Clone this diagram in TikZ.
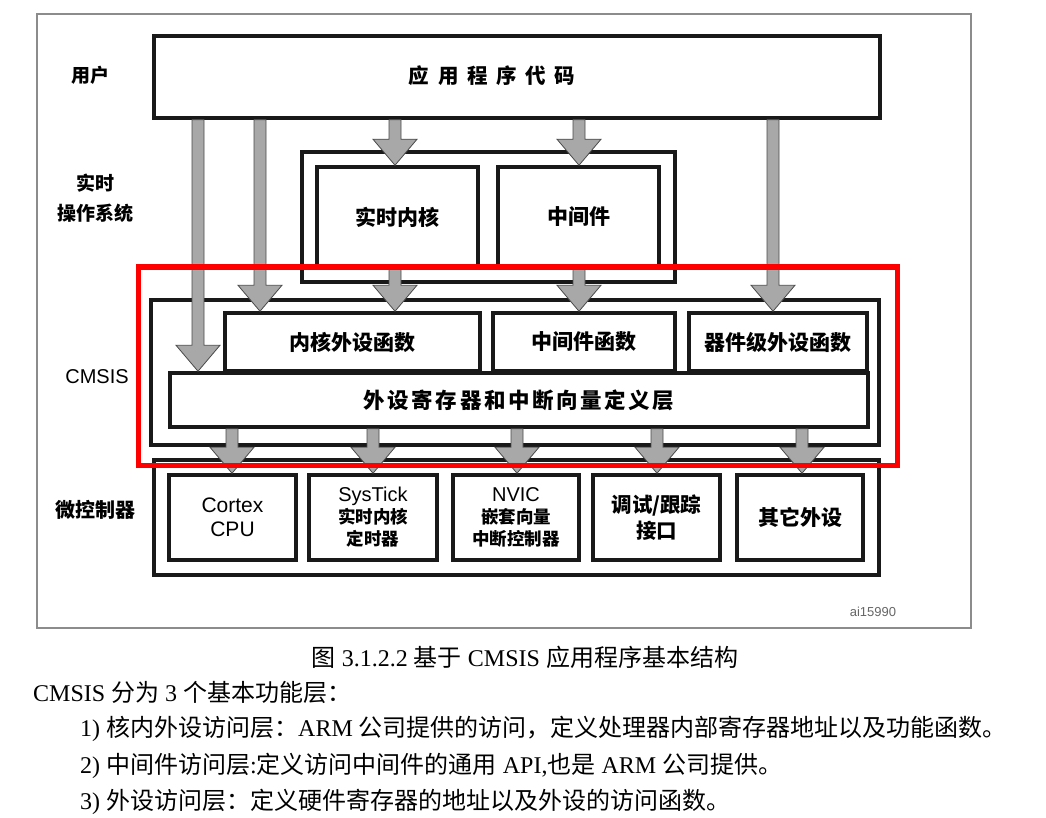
\documentclass[tikz,border=0pt]{standalone}
\usepackage{fontspec}
\setmainfont{Liberation Serif}
\setsansfont{Liberation Sans}
\newfontfamily\cjk{Noto Sans CJK SC}
\usetikzlibrary{calc,positioning}
\definecolor{arrowgray}{HTML}{A8A8A8}
\definecolor{edgegray}{HTML}{4A4A4A}
\definecolor{framegray}{HTML}{8C8C8C}
\definecolor{markred}{HTML}{FF0000}
% broad grey block arrow: x position, from node, to node
\newcommand{\flowarrow}[3]{%
  \path[arrowshape] let \p1=(#1,0 |- #2.south), \p2=(#1,0 |- #3.north) in
    ({\x1-6pt},\y1) -- ({\x1-6pt},{\y2+26pt}) -- ({\x1-22pt},{\y2+26pt}) -- (\x1,\y2)
    -- ({\x1+22pt},{\y2+26pt}) -- ({\x1+6pt},{\y2+26pt}) -- ({\x1+6pt},\y1) -- cycle;}

\begin{document}
\begin{tikzpicture}[x=1pt,y=-1pt,
    box/.style={rectangle, draw=black!90, line width=3.5pt, fill=white, inner sep=0pt,
      font=\cjk\bfseries\fontsize{21}{24}\selectfont, align=center},
    side/.style={font=\cjk\bfseries\fontsize{19}{30}\selectfont, align=center},
    arrowshape/.style={fill=arrowgray, draw=edgegray, line width=0.8pt},
    caption/.style={font=\fontsize{24}{28}\selectfont, inner sep=0pt}
]
    \useasboundingbox[fill=white] (0,0) rectangle (1046,818);

    % outer frame
    \draw[framegray, line width=1.5pt] (37,14) rectangle (971,628);

    % user layer
    \node[box, minimum width=726, minimum height=82] (app) at (517,77) {};
    \node[font=\cjk\bfseries\fontsize{20.5}{24}\selectfont\addfontfeature{LetterSpace=42}] (apptxt) at (492,76) {应用程序代码};

    % RTOS layer
    \node[box, minimum width=373, minimum height=130] (rtos) at (488.5,217) {};
    \node[box, minimum width=161, minimum height=100] (rtk) at (397.5,217) {实时内核};
    \node[box, minimum width=161, minimum height=100] (mid) at (578.5,217) {中间件};

    % CMSIS layer
    \node[box, minimum width=728, minimum height=145] (cmsis) at (515,372.5) {};
    \node[box, minimum width=255, minimum height=58] (corefn) at (352.5,342) {内核外设函数};
    \node[box, minimum width=182, minimum height=58] (midfn) at (584,342) {中间件函数};
    \node[box, minimum width=178, minimum height=58] (devfn) at (778,342) {器件级外设函数};
    \node[box, minimum width=698, minimum height=54,
      font=\cjk\bfseries\fontsize{21.5}{24}\selectfont\addfontfeature{LetterSpace=12}] (reg) at (519,400) {外设寄存器和中断向量定义层};

    % microcontroller layer
    \node[box, minimum width=725, minimum height=115] (mcu) at (516.5,517.5) {};
    \node[box, minimum width=127, minimum height=85, font=\sffamily\fontsize{21}{24}\selectfont] (cpu) at (232.5,517.5) {Cortex\\CPU};
    \node[box, minimum width=128, minimum height=85, font=\cjk\bfseries\fontsize{17.5}{22}\selectfont] (systick) at (373,517.5)
      {{\sffamily\mdseries\fontsize{20}{22}\selectfont SysTick}\\实时内核\\定时器};
    \node[box, minimum width=126, minimum height=85, font=\cjk\bfseries\fontsize{17.5}{22}\selectfont] (nvic) at (516,517.5)
      {{\sffamily\mdseries\fontsize{20}{22}\selectfont NVIC}\\嵌套向量\\中断控制器};
    \node[box, minimum width=127, minimum height=85, font=\cjk\bfseries\fontsize{20.5}{26}\selectfont] (dbg) at (656.5,517.5) {调试/跟踪\\接口};
    \node[box, minimum width=126, minimum height=85] (other) at (800,517.5) {其它外设};

    % arrows
    \flowarrow{198}{app}{reg}
    \flowarrow{260}{app}{corefn}
    \flowarrow{395}{app}{rtk}
    \flowarrow{579}{app}{mid}
    \flowarrow{773}{app}{devfn}
    \flowarrow{395}{rtk}{corefn}
    \flowarrow{579}{mid}{midfn}
    \flowarrow{232}{reg}{cpu}
    \flowarrow{373}{reg}{systick}
    \flowarrow{517}{reg}{nvic}
    \flowarrow{657}{reg}{dbg}
    \flowarrow{802}{reg}{other}

    % highlight
    \node[draw=markred, line width=5pt, minimum width=759, minimum height=198, inner sep=0pt] (focus) at (517.5,366) {};

    % layer names
    \node[side] (user) at (90,75) {用户};
    \node[side] (os) at (95,198) {实时\\操作系统};
    \node[font=\sffamily\fontsize{20}{24}\selectfont] (cm) at (97,377) {CMSIS};
    \node[side, font=\cjk\bfseries\fontsize{20}{24}\selectfont] (mc) at (95,510) {微控制器};
    \node[font=\sffamily\fontsize{13}{16}\selectfont, text=black!60] (fig) at (873,612) {ai15990};

    % caption and notes
    \node[caption] (capt) at (525,657) {{\cjk 图} 3.1.2.2 {\cjk 基于} CMSIS {\cjk 应用程序基本结构}};
    \node[caption, anchor=west] (intro) at (33,692) {CMSIS {\cjk 分为} 3 {\cjk 个基本功能层：}};
    \node[caption, anchor=west] (item1) at (80,729) {1)\ {\cjk 核内外设访问层：}ARM {\cjk 公司提供的访问，定义处理器内部寄存器地址以及功能函数。}};
    \node[caption, anchor=west] (item2) at (80,766) {2)\ {\cjk 中间件访问层}:{\cjk 定义访问中间件的通用} API,{\cjk 也是} ARM {\cjk 公司提供。}};
    \node[caption, anchor=west] (item3) at (80,802) {3)\ {\cjk 外设访问层：定义硬件寄存器的地址以及外设的访问函数。}};
\end{tikzpicture}
\end{document}
